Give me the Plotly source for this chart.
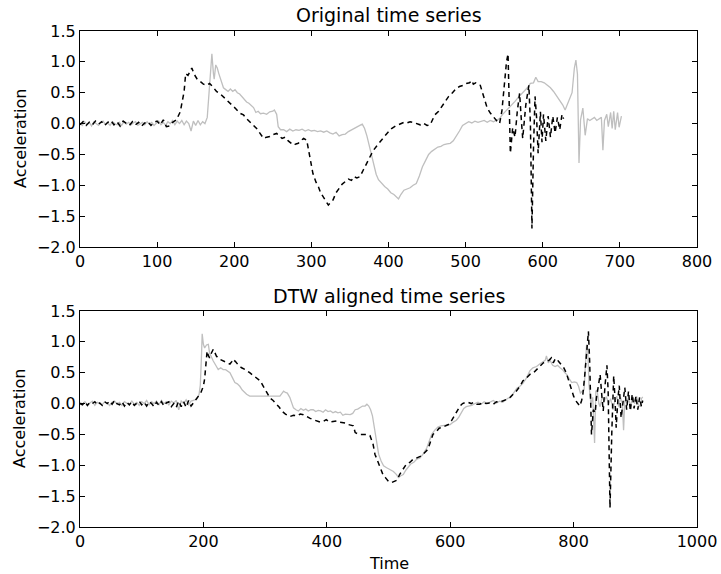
import plotly.graph_objects as go

# ---------------- data ----------------
# Original query series (black dashed)
q_x = [0,4,8,12,16,20,24,28,32,36,40,44,48,52,56,60,64,68,72,76,80,84,88,92,96,100,104,108,112,116,120,125,130,135,137,140,143,145,148,152,156,160,164,168,172,177,182,188,192,197,202,207,212,216,220,225,229,233,238,242,246,250,255,258,262,266,270,274,277,280,283,286,290,294,298,302,306,309,312,316,320,322,325,328,332,336,340,344,348,352,355,359,363,367,372,376,380,385,389,394,398,404,409,415,420,424,428,432,436,441,445,450,454,457,460,465,469,473,478,483,488,492,497,501,505,508,510,513,516,519,522,525,528,532,536,540,544,547,550,553,555,557,558,561,564,567,570,572,574,578,582,584,586,588,590,592,594,597,599,601,604,607,610,613,616,619,622,625,627]
q_y = [-0.02,0.03,-0.03,0.02,-0.02,0.04,-0.01,0.03,-0.03,0.02,0.05,-0.02,0.03,-0.04,0.04,0.0,-0.03,0.03,-0.02,0.02,-0.04,0.01,0.03,-0.03,0.02,0.04,-0.02,0.06,-0.05,-0.04,0.02,0.06,0.19,0.52,0.81,0.78,0.86,0.9,0.8,0.72,0.68,0.64,0.62,0.65,0.6,0.52,0.48,0.41,0.36,0.30,0.24,0.17,0.14,0.08,0.03,-0.02,-0.08,-0.15,-0.24,-0.22,-0.21,-0.18,-0.16,-0.2,-0.24,-0.22,-0.28,-0.32,-0.35,-0.33,-0.32,-0.28,-0.24,-0.27,-0.54,-0.81,-0.95,-1.02,-1.12,-1.21,-1.28,-1.32,-1.28,-1.24,-1.12,-1.04,-0.98,-0.94,-0.9,-0.92,-0.86,-0.88,-0.86,-0.76,-0.64,-0.52,-0.44,-0.36,-0.29,-0.22,-0.16,-0.08,-0.04,0.0,0.02,0.01,0.03,0.02,0.0,-0.02,0.01,-0.03,-0.02,0.05,0.14,0.2,0.27,0.36,0.44,0.5,0.57,0.6,0.62,0.65,0.66,0.7,0.64,0.66,0.63,0.62,0.5,0.38,0.25,0.17,0.1,0.05,0.0,0.2,0.6,1.0,1.13,0.2,-0.48,-0.07,-0.22,0.2,0.49,0.1,-0.24,0.3,0.62,0.0,-1.70,-0.4,0.44,0.1,-0.48,0.19,-0.3,0.15,-0.28,0.12,-0.22,0.12,-0.15,0.1,-0.1,0.15,0.08]

# Original reference series (grey)
r_x = [0,3,6,9,12,15,18,21,24,27,30,33,36,39,42,45,48,51,54,57,60,63,66,69,72,75,78,81,84,87,90,93,96,99,102,105,108,111,114,117,120,123,126,129,132,135,138,141,144,147,150,153,156,159,162,165,167,169,171,173,174,176,178,180,183,186,189,192,195,198,201,204,207,210,213,216,219,222,225,228,231,234,238,242,246,250,252,255,257,260,264,268,272,276,280,284,288,292,296,300,304,308,312,316,320,324,328,332,336,340,344,348,352,356,360,364,366,369,372,375,378,380,384,387,391,395,399,403,407,411,413,416,420,424,428,432,436,440,444,448,452,456,460,464,468,472,476,480,484,488,492,496,500,504,508,512,516,520,524,528,532,536,540,544,548,552,556,560,564,568,572,576,580,584,588,591,594,598,602,606,610,614,618,622,626,629,631,634,638,641,643,645,647,649,652,655,658,661,664,667,670,673,676,678,680,683,685,688,690,692,694,697,699,702]
r_y = [0.01,-0.03,0.03,-0.02,0.02,-0.04,0.03,0.0,-0.03,0.02,0.04,-0.02,0.01,-0.03,0.03,0.0,-0.02,0.02,-0.03,0.03,-0.01,0.02,-0.02,0.01,0.03,-0.03,0.0,0.02,-0.02,0.03,-0.01,0.02,-0.03,0.01,0.04,-0.02,0.02,-0.03,0.03,0.0,0.05,-0.02,0.04,0.0,0.05,-0.02,0.04,0.0,-0.12,0.04,-0.03,0.05,-0.02,0.03,0.0,0.1,0.45,0.85,1.13,0.81,0.72,0.95,0.9,0.81,0.7,0.58,0.55,0.52,0.56,0.52,0.55,0.5,0.48,0.44,0.40,0.35,0.33,0.30,0.26,0.18,0.20,0.16,0.17,0.15,0.19,0.2,0.22,0.15,-0.05,-0.1,-0.1,-0.13,-0.09,-0.12,-0.1,-0.11,-0.09,-0.12,-0.1,-0.12,-0.11,-0.13,-0.12,-0.14,-0.12,-0.15,-0.17,-0.14,-0.2,-0.18,-0.17,-0.13,-0.1,-0.07,-0.04,-0.02,-0.01,-0.08,-0.2,-0.35,-0.5,-0.64,-0.82,-0.91,-0.97,-1.02,-1.06,-1.12,-1.15,-1.2,-1.22,-1.15,-1.08,-1.06,-1.04,-1.0,-0.97,-0.85,-0.7,-0.6,-0.5,-0.45,-0.41,-0.38,-0.37,-0.34,-0.33,-0.32,-0.28,-0.21,-0.12,-0.03,0.0,0.03,0.01,0.04,0.02,0.03,0.05,0.02,0.05,0.03,0.05,0.08,0.15,0.2,0.25,0.3,0.36,0.42,0.47,0.53,0.58,0.65,0.66,0.75,0.68,0.68,0.66,0.62,0.58,0.52,0.45,0.38,0.3,0.22,0.28,0.35,0.5,0.9,1.03,0.8,-0.64,0.06,0.25,-0.19,0.08,0.05,0.07,0.1,0.05,0.08,0.1,-0.43,0.05,0.15,-0.05,0.18,-0.08,0.2,-0.1,0.18,-0.06,0.12]

# DTW aligned query (black dashed)
aq_x = [0,4,8,12,16,20,24,28,32,36,40,44,48,52,56,60,64,68,72,76,80,84,88,92,96,100,104,108,112,116,120,124,128,132,136,140,144,148,152,156,160,164,168,172,176,180,184,188,192,196,200,202,204,206,208,210,213,216,218,221,226,232,237,243,246,248,252,257,262,268,275,280,286,292,296,300,304,308,313,319,323,327,333,340,346,352,357,362,368,373,378,384,389,394,399,404,410,416,421,427,432,435,440,443,446,452,459,465,470,475,478,482,486,491,495,500,505,510,514,518,523,529,535,540,546,553,558,564,568,572,578,582,586,592,597,602,608,612,616,620,625,629,634,638,643,648,653,658,664,670,675,680,686,692,697,702,707,713,718,724,730,735,740,746,751,755,760,764,767,770,773,775,779,784,788,792,796,800,804,807,810,813,815,818,821,824,826,828,829,832,835,837,840,843,846,848,851,854,856,859,862,865,867,869,872,874,877,880,883,886,889,892,895,898,901,904,907,910,912]
aq_y = [0.0,-0.02,0.03,-0.03,0.02,0.0,0.03,-0.02,0.01,-0.03,0.03,0.0,0.04,-0.01,0.05,0.0,-0.02,0.03,-0.04,0.02,-0.02,0.03,-0.03,0.01,0.04,-0.02,0.02,-0.04,0.03,0.0,-0.05,0.02,-0.03,0.03,-0.04,0.01,0.03,-0.05,0.0,-0.06,0.04,-0.05,0.03,-0.06,0.05,-0.04,0.01,0.06,0.12,0.18,0.28,0.4,0.64,0.85,0.78,0.74,0.82,0.88,0.84,0.77,0.72,0.69,0.66,0.64,0.68,0.72,0.68,0.62,0.58,0.55,0.5,0.46,0.42,0.37,0.3,0.23,0.15,0.09,0.05,-0.01,-0.06,-0.12,-0.17,-0.21,-0.19,-0.2,-0.17,-0.18,-0.22,-0.24,-0.26,-0.28,-0.3,-0.29,-0.26,-0.3,-0.29,-0.28,-0.3,-0.31,-0.32,-0.34,-0.35,-0.36,-0.47,-0.5,-0.5,-0.5,-0.52,-0.66,-0.82,-0.92,-1.01,-1.15,-1.2,-1.26,-1.28,-1.26,-1.24,-1.15,-1.08,-0.98,-0.95,-0.9,-0.88,-0.85,-0.8,-0.74,-0.62,-0.5,-0.45,-0.4,-0.39,-0.36,-0.34,-0.28,-0.17,-0.1,-0.04,0.0,0.02,0.02,0.0,0.02,-0.01,-0.01,0.02,0.0,0.01,-0.01,0.03,0.02,0.04,0.07,0.1,0.15,0.2,0.28,0.37,0.42,0.48,0.5,0.55,0.6,0.66,0.68,0.7,0.74,0.66,0.72,0.68,0.69,0.64,0.58,0.5,0.38,0.23,0.12,0.04,0.0,-0.04,0.05,0.15,0.45,0.9,1.17,0.69,-0.2,-0.5,-0.1,-0.15,0.09,0.3,0.47,0.1,-0.12,0.3,0.62,0.2,-1.69,-0.44,0.45,0.1,-0.39,0.1,0.29,-0.23,0.0,0.26,-0.1,0.2,-0.12,0.15,-0.08,0.12,-0.1,0.1,-0.05,0.05]

# DTW aligned reference (grey)
ar_x = [0,4,8,12,16,20,24,28,32,36,40,44,48,52,56,60,64,68,72,76,80,84,88,92,96,100,104,108,112,116,120,124,128,132,136,140,144,148,152,156,160,164,168,172,176,180,185,189,193,195,197,198,200,202,205,208,210,213,216,220,224,228,232,236,240,243,247,251,255,259,263,267,270,275,281,290,300,310,318,324,327,330,333,336,340,343,346,350,354,358,362,366,370,374,378,382,386,390,394,398,402,406,410,414,418,422,426,430,434,438,442,446,450,454,458,462,465,468,471,474,477,480,484,488,492,497,503,508,513,516,520,524,528,532,536,541,546,551,556,562,566,570,575,580,585,590,595,600,605,610,614,618,622,626,630,635,640,645,650,655,660,665,670,675,680,685,690,694,698,703,708,713,718,724,729,734,740,745,750,754,756,759,762,766,770,774,778,782,786,789,793,797,801,805,808,811,814,817,819,821,823,825,828,831,834,836,838,841,843,846,850,853,857,860,864,867,870,873,876,879,881,883,886,889,892,896,899,902,905,908,910,912]
ar_y = [0.02,-0.01,0.03,-0.02,0.01,0.04,-0.03,0.02,0.0,-0.02,0.03,0.01,-0.03,0.02,0.04,-0.01,0.02,-0.03,0.03,0.0,-0.02,0.04,-0.01,0.02,-0.03,0.03,0.0,0.05,-0.02,0.03,0.0,0.04,-0.02,0.05,0.0,0.03,-0.02,0.04,0.01,0.05,-0.1,0.04,0.0,0.06,-0.02,0.04,0.05,0.07,0.15,0.3,0.8,1.13,0.96,0.9,0.95,0.96,0.82,0.75,0.69,0.62,0.55,0.58,0.55,0.55,0.52,0.5,0.42,0.34,0.32,0.28,0.22,0.18,0.15,0.12,0.12,0.12,0.12,0.12,0.12,0.12,0.16,0.2,0.18,0.17,0.1,0.0,-0.07,-0.1,-0.12,-0.08,-0.11,-0.09,-0.12,-0.1,-0.1,-0.13,-0.11,-0.12,-0.14,-0.1,-0.13,-0.12,-0.15,-0.13,-0.15,-0.14,-0.19,-0.17,-0.18,-0.18,-0.16,-0.1,-0.09,-0.06,-0.04,-0.04,-0.01,-0.04,-0.1,-0.2,-0.4,-0.6,-0.82,-0.93,-1.01,-1.04,-1.07,-1.1,-1.15,-1.2,-1.17,-1.15,-1.08,-1.02,-0.98,-0.95,-0.9,-0.88,-0.82,-0.72,-0.6,-0.5,-0.43,-0.38,-0.36,-0.35,-0.34,-0.34,-0.3,-0.27,-0.22,-0.15,-0.08,-0.05,-0.04,-0.03,0.0,0.02,-0.01,0.03,0.0,0.02,0.05,0.01,0.04,0.02,0.06,0.09,0.1,0.18,0.25,0.28,0.33,0.42,0.53,0.58,0.6,0.64,0.68,0.7,0.77,0.66,0.7,0.62,0.6,0.62,0.58,0.55,0.5,0.47,0.4,0.34,0.35,0.34,0.28,0.17,0.2,0.22,0.6,0.95,0.85,0.3,0.0,0.1,-0.64,0.2,0.22,0.0,-0.05,0.1,0.05,0.11,0.0,0.08,-0.1,0.05,0.12,-0.05,0.1,0.0,-0.43,0.05,0.02,0.1,-0.05,0.11,0.0,0.12,-0.02,-0.05,0.08,0.11]

titles = ["Original time series", "DTW aligned time series"]
y_label = "Acceleration"
x_label = "Time"
y_ticks = [1.5, 1.0, 0.5, 0.0, -0.5, -1.0, -1.5, -2.0]
x_ticks_top = [0, 100, 200, 300, 400, 500, 600, 700, 800]
x_ticks_bottom = [0, 200, 400, 600, 800, 1000]

# ---------------- figure ----------------
GREY = "#bfbfbf"
FONT = "DejaVu Sans"
TOP_DOM = [0.5645, 1.0]
BOT_DOM = [0.0, 0.4355]

fig = go.Figure()
fig.add_trace(go.Scatter(x=r_x, y=r_y, mode="lines", line=dict(color=GREY, width=1.3), xaxis="x", yaxis="y", showlegend=False))
fig.add_trace(go.Scatter(x=q_x, y=q_y, mode="lines", line=dict(color="black", width=1.5, dash="5px,4px"), xaxis="x", yaxis="y", showlegend=False))
fig.add_trace(go.Scatter(x=ar_x, y=ar_y, mode="lines", line=dict(color=GREY, width=1.3), xaxis="x2", yaxis="y2", showlegend=False))
fig.add_trace(go.Scatter(x=aq_x, y=aq_y, mode="lines", line=dict(color="black", width=1.5, dash="5px,4px"), xaxis="x2", yaxis="y2", showlegend=False))

axis_common = dict(showline=True, linecolor="black", linewidth=1, mirror="allticks",
                   ticks="inside", ticklen=5, tickcolor="black", showgrid=False, zeroline=False,
                   automargin=False, tickfont=dict(family=FONT, size=16, color="black"))

fig.update_layout(
    width=721, height=574,
    margin=dict(l=80, r=24, t=31, b=47),
    paper_bgcolor="white", plot_bgcolor="white",
    xaxis=dict(domain=[0, 1], anchor="y", range=[0, 800], tickvals=x_ticks_top, **axis_common),
    yaxis=dict(domain=TOP_DOM, anchor="x", range=[-2.0, 1.5], tickvals=y_ticks, tickformat=".1f", **axis_common),
    xaxis2=dict(domain=[0, 1], anchor="y2", range=[0, 1000], tickvals=x_ticks_bottom, **axis_common),
    yaxis2=dict(domain=BOT_DOM, anchor="x2", range=[-2.0, 1.5], tickvals=y_ticks, tickformat=".1f", **axis_common),
    annotations=[
        dict(text=titles[0], x=0.5, y=TOP_DOM[1], xref="paper", yref="paper", yanchor="middle", yshift=16,
             showarrow=False, font=dict(family=FONT, size=19, color="black")),
        dict(text=titles[1], x=0.5, y=BOT_DOM[1], xref="paper", yref="paper", yanchor="middle", yshift=15,
             showarrow=False, font=dict(family=FONT, size=19, color="black")),
        dict(text=y_label, x=0, y=sum(TOP_DOM) / 2, xref="paper", yref="paper", xanchor="center", yanchor="middle",
             xshift=-60, textangle=-90, showarrow=False, font=dict(family=FONT, size=16, color="black")),
        dict(text=y_label, x=0, y=sum(BOT_DOM) / 2, xref="paper", yref="paper", xanchor="center", yanchor="middle",
             xshift=-60, textangle=-90, showarrow=False, font=dict(family=FONT, size=16, color="black")),
        dict(text=x_label, x=0.5, y=0, xref="paper", yref="paper", xanchor="center", yanchor="middle",
             yshift=-36, showarrow=False, font=dict(family=FONT, size=16, color="black")),
    ],
)
fig.write_html("out.html", config={"displayModeBar": False},
               post_script="document.body.style.margin='0';document.body.style.overflow='hidden';")
